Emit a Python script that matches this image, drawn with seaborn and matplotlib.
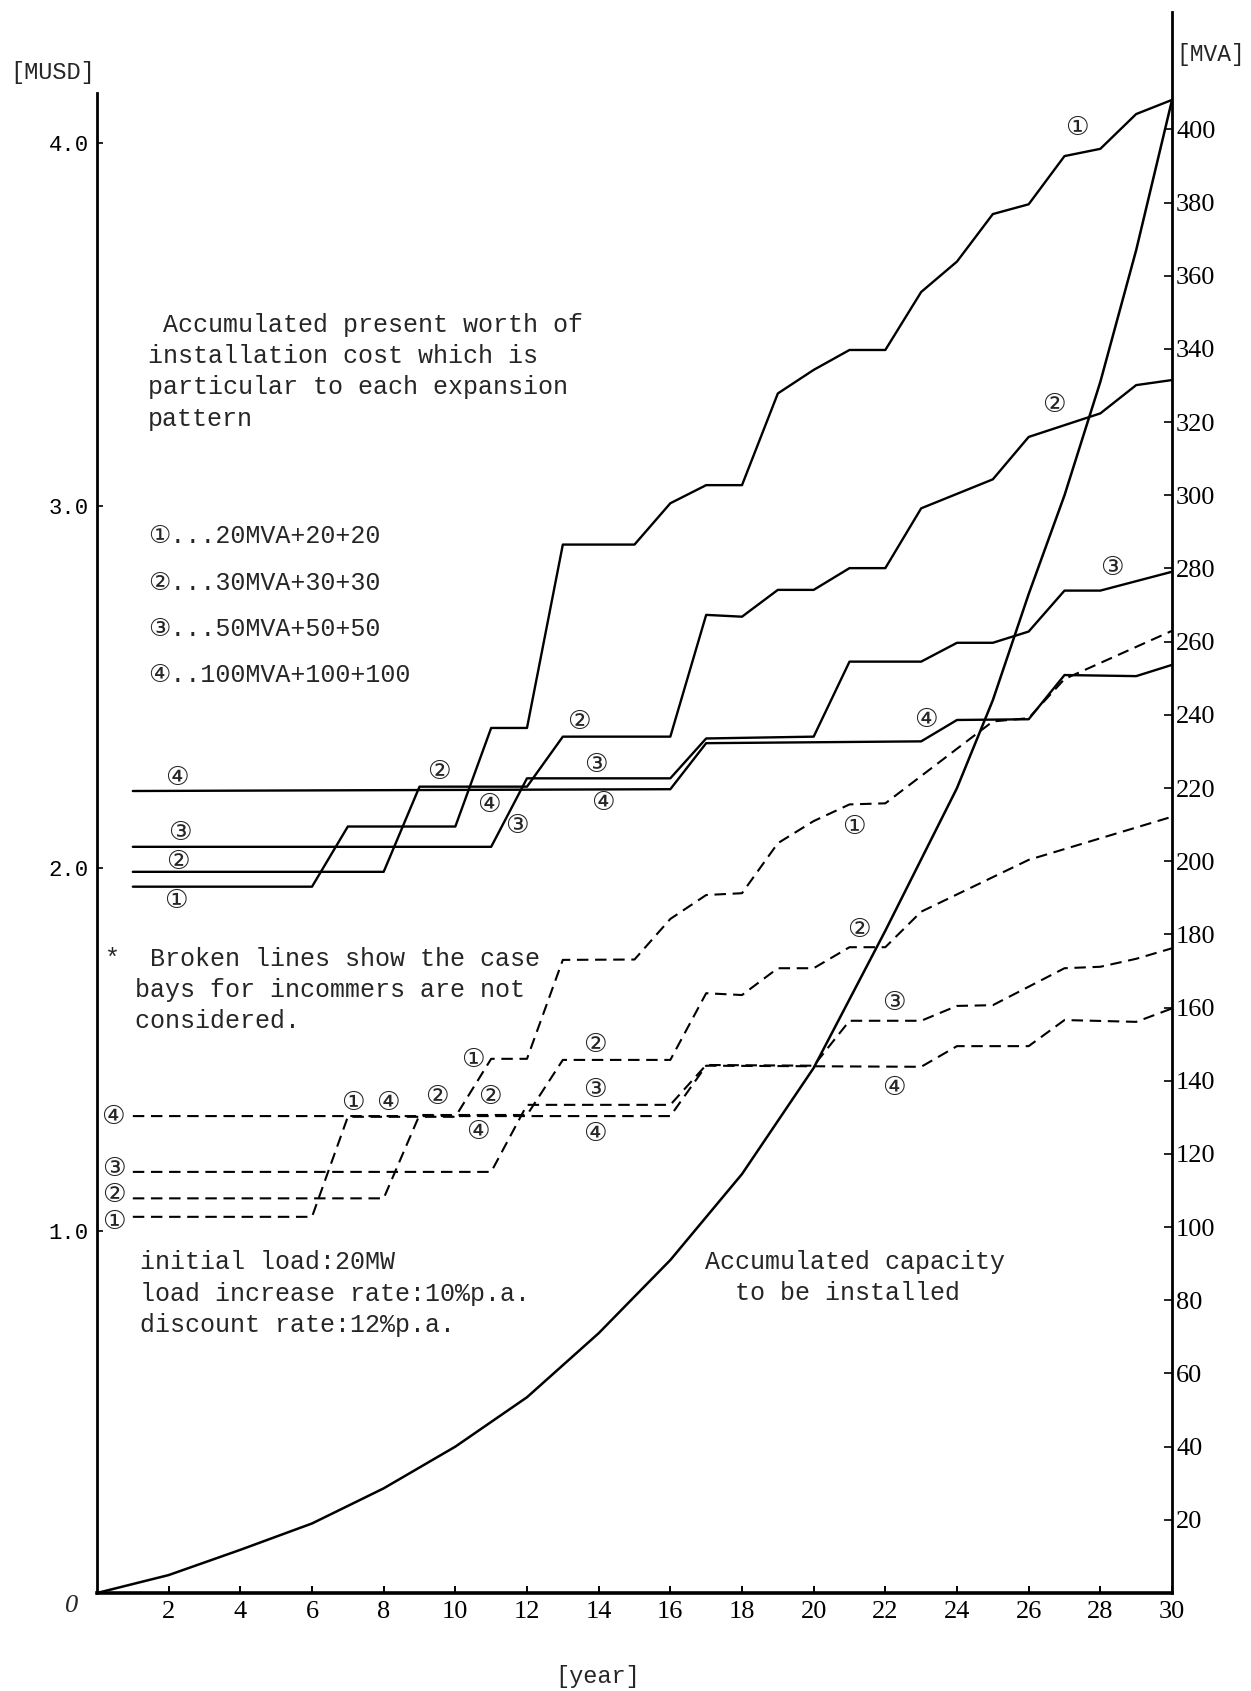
import matplotlib
matplotlib.use("Agg")
import matplotlib.pyplot as plt
import seaborn as sns
from matplotlib import font_manager

# ---------------------------------------------------------------- data
# Accumulated present worth of installation cost [MUSD], solid lines
years_s1 = [1, 6, 7, 10, 11, 12, 13, 15, 16, 17, 18, 19, 20, 21, 22, 23, 24, 25, 26, 27, 28, 29, 30]
cost_s1 = [1.949, 1.949, 2.115, 2.115, 2.387, 2.387, 2.893, 2.893, 3.007, 3.057, 3.057, 3.31,
           3.375, 3.43, 3.43, 3.59, 3.674, 3.805, 3.832, 3.965, 3.985, 4.081, 4.12]

years_s2 = [1, 8, 9, 12, 13, 16, 17, 18, 19, 20, 21, 22, 23, 25, 26, 28, 29, 30]
cost_s2 = [1.990, 1.990, 2.225, 2.225, 2.363, 2.363, 2.699, 2.694, 2.768, 2.768, 2.828, 2.828,
           2.993, 3.073, 3.19, 3.255, 3.333, 3.347]

years_s3 = [1, 11, 12, 16, 17, 20, 21, 23, 24, 25, 26, 27, 28, 30]
cost_s3 = [2.059, 2.059, 2.248, 2.248, 2.358, 2.363, 2.57, 2.57, 2.622, 2.622, 2.653, 2.766, 2.766, 2.818]

years_s4 = [1, 16, 17, 23, 24, 26, 27, 29, 30]
cost_s4 = [2.213, 2.218, 2.345, 2.350, 2.409, 2.411, 2.533, 2.530, 2.561]

# Same patterns without incomer bays [MUSD], broken lines
years_d1 = [1, 6, 7, 10, 11, 12, 13, 15, 16, 17, 18, 19, 20, 21, 22, 25, 26, 27, 30]
cost_d1 = [1.038, 1.038, 1.314, 1.314, 1.474, 1.474, 1.747, 1.748, 1.86, 1.926, 1.931, 2.069,
           2.13, 2.176, 2.179, 2.405, 2.414, 2.522, 2.655]

years_d2 = [1, 8, 9, 12, 13, 16, 17, 18, 19, 20, 21, 22, 23, 26, 30]
cost_d2 = [1.089, 1.089, 1.319, 1.319, 1.471, 1.471, 1.655, 1.650, 1.724, 1.724, 1.782, 1.782,
           1.88, 2.023, 2.142]

years_d3 = [1, 11, 12, 16, 17, 20, 21, 23, 24, 25, 27, 28, 29, 30]
cost_d3 = [1.162, 1.162, 1.347, 1.347, 1.457, 1.455, 1.579, 1.579, 1.62, 1.622, 1.724, 1.728, 1.75, 1.779]

years_d4 = [1, 16, 17, 23, 24, 26, 27, 29, 30]
cost_d4 = [1.316, 1.316, 1.455, 1.452, 1.509, 1.509, 1.581, 1.576, 1.613]

# Accumulated capacity to be installed [MVA]
cap_years = [0, 2, 4, 6, 8, 10, 12, 14, 16, 18, 20, 22, 24, 25, 26, 27, 28, 29, 30]
cap_mva = [0, 4.9, 11.8, 19.0, 28.6, 40.0, 53.5, 71.0, 91.0, 114.5, 143.5, 181, 220, 244,
           273, 300, 331, 367, 408]

x_ticks = list(range(2, 31, 2))
left_ticks = [1.0, 2.0, 3.0, 4.0]
left_tick_labels = ["1.0", "2.0", "3.0", "4.0"]
right_ticks = list(range(20, 401, 20))

legend_lines = ["①...20MVA+20+20", "②...30MVA+30+30", "③...50MVA+50+50", "④..100MVA+100+100"]

# circled pattern numbers placed along the curves (year, MUSD)
solid_marks = [
    ("①", 27.34, 4.042), ("①", 2.20, 1.910),
    ("②", 2.25, 2.018), ("②", 9.54, 2.266), ("②", 13.45, 2.404), ("②", 26.69, 3.278),
    ("③", 2.30, 2.098), ("③", 11.73, 2.117), ("③", 13.92, 2.285), ("③", 28.32, 2.828),
    ("④", 2.23, 2.248), ("④", 10.93, 2.174), ("④", 14.12, 2.179), ("④", 23.13, 2.409),
]
broken_marks = [
    ("①", 0.47, 1.024), ("①", 7.14, 1.351), ("①", 10.49, 1.471), ("①", 21.11, 2.115),
    ("②", 0.47, 1.098), ("②", 9.48, 1.370), ("②", 10.97, 1.370), ("②", 13.90, 1.512),
    ("②", 21.25, 1.829),
    ("③", 0.47, 1.170), ("③", 13.90, 1.388), ("③", 22.23, 1.627),
    ("④", 0.43, 1.314), ("④", 8.12, 1.351), ("④", 10.64, 1.273), ("④", 13.90, 1.268),
    ("④", 22.23, 1.393),
]


# ---------------------------------------------------------------- fonts
def pick(*names):
    avail = {f.name for f in font_manager.fontManager.ttflist}
    for n in names:
        if n in avail:
            return n
    return "DejaVu Sans"


MONO = pick("Liberation Mono", "DejaVu Sans Mono")
NARROW = pick("Liberation Sans Narrow", "DejaVu Sans Condensed", "Liberation Serif")
SERIF = pick("Liberation Serif", "DejaVu Serif")
CIRCLED = ["DejaVu Sans", "Noto Sans CJK JP"]

sns.set_theme(style="white")
plt.rcParams["font.family"] = [MONO, "DejaVu Sans", "Noto Sans CJK JP"]

W, H = 1251, 1691
fig = plt.figure(figsize=(W / 100, H / 100), dpi=100)
fig.patch.set_facecolor("white")

# plot frame: x 0..30 spans px 97..1172, baseline at px 1593, top at px 12
ax = fig.add_axes([97 / W, (H - 1593) / H, 1075 / W, 1581 / H])
ax.set_facecolor("white")
ax2 = ax.twinx()

solid = [(years_s1, cost_s1), (years_s2, cost_s2), (years_s3, cost_s3), (years_s4, cost_s4)]
broken = [(years_d1, cost_d1), (years_d2, cost_d2), (years_d3, cost_d3), (years_d4, cost_d4)]

for yrs, vals in solid:
    sns.lineplot(x=yrs, y=vals, ax=ax, color="black", lw=1.7, estimator=None, sort=False)
for yrs, vals in broken:
    sns.lineplot(x=yrs, y=vals, ax=ax, color="black", lw=1.5, estimator=None, sort=False,
                 linestyle=(0, (5.5, 3.2)))
sns.lineplot(x=cap_years, y=cap_mva, ax=ax2, color="black", lw=1.8, estimator=None, sort=False)

ax.set_xlim(0, 30)
ax.set_ylim(0, 1581 / 362.4)
ax2.set_ylim(0, 1581 / 3.659)
ax.set_xlabel("")
ax.set_ylabel("")
ax2.set_ylabel("")

# spines
ax.spines["top"].set_visible(False)
ax.spines["right"].set_visible(False)
ax2.spines["top"].set_visible(False)
ax2.spines["left"].set_visible(False)
ax2.spines["bottom"].set_visible(False)
ax.spines["left"].set_bounds(0, 4.14)
ax.spines["left"].set_linewidth(2.0)
ax.spines["left"].set_color("black")
ax.spines["bottom"].set_linewidth(2.6)
ax.spines["bottom"].set_color("black")
ax2.spines["right"].set_linewidth(2.0)
ax2.spines["right"].set_color("black")

# ticks
ax.set_xticks(x_ticks)
ax.set_xticklabels([str(t) for t in x_ticks])
ax.tick_params(axis="x", direction="in", length=5, width=1.4, pad=6, labelsize=19,
               colors="black", bottom=True)
for lbl in ax.get_xticklabels():
    lbl.set_fontfamily(NARROW)

ax.set_yticks(left_ticks)
ax.set_yticklabels(left_tick_labels)
ax.tick_params(axis="y", direction="in", length=4, width=1.2, pad=6, labelsize=16,
               colors="black", left=True)

ax2.set_yticks(right_ticks)
ax2.set_yticklabels([str(t) for t in right_ticks])
ax2.tick_params(axis="y", direction="in", length=6, width=1.2, pad=3, labelsize=19,
                colors="black", right=True)
for lbl in ax2.get_yticklabels():
    lbl.set_fontfamily(NARROW)

ax.text(-0.7, -0.035, "0", fontsize=19, style="italic", family=SERIF,
        ha="center", va="center", clip_on=False)

# circled pattern numbers
for mark, x, y in solid_marks + broken_marks:
    ax.text(x, y, mark, fontsize=19, family=CIRCLED, ha="center", va="center")


# ---------------------------------------------------------------- texts (pixel placement)
def px_text(x, y, s, **kw):
    kw.setdefault("fontsize", 18)
    kw.setdefault("va", "center")
    kw.setdefault("ha", "left")
    fig.text(x / W, 1 - y / H, s, **kw)


def px_block(x, ys, lines, **kw):
    for yy, line in zip(ys, lines):
        px_text(x, yy, line, **kw)


px_text(10, 72, "[MUSD]", fontsize=17)
px_text(1176, 55, "[MVA]", fontsize=16.5)
px_text(598, 1677, "[year]", fontsize=17, ha="center")

px_block(147.7, [325, 356, 387, 419],
         [" Accumulated present worth of", "installation cost which is",
          "particular to each expansion", "pattern"])
px_block(147.7, [536, 583, 629, 675], legend_lines)
px_block(104.6, [959, 990, 1021],
         ["*  Broken lines show the case", "  bays for incommers are not", "  considered."])
px_block(140, [1262, 1294, 1325],
         ["initial load:20MW", "load increase rate:10%p.a.", "discount rate:12%p.a."])
px_block(705, [1262, 1293], ["Accumulated capacity", "  to be installed"])

fig.savefig("out.png", dpi=100, facecolor="white")
